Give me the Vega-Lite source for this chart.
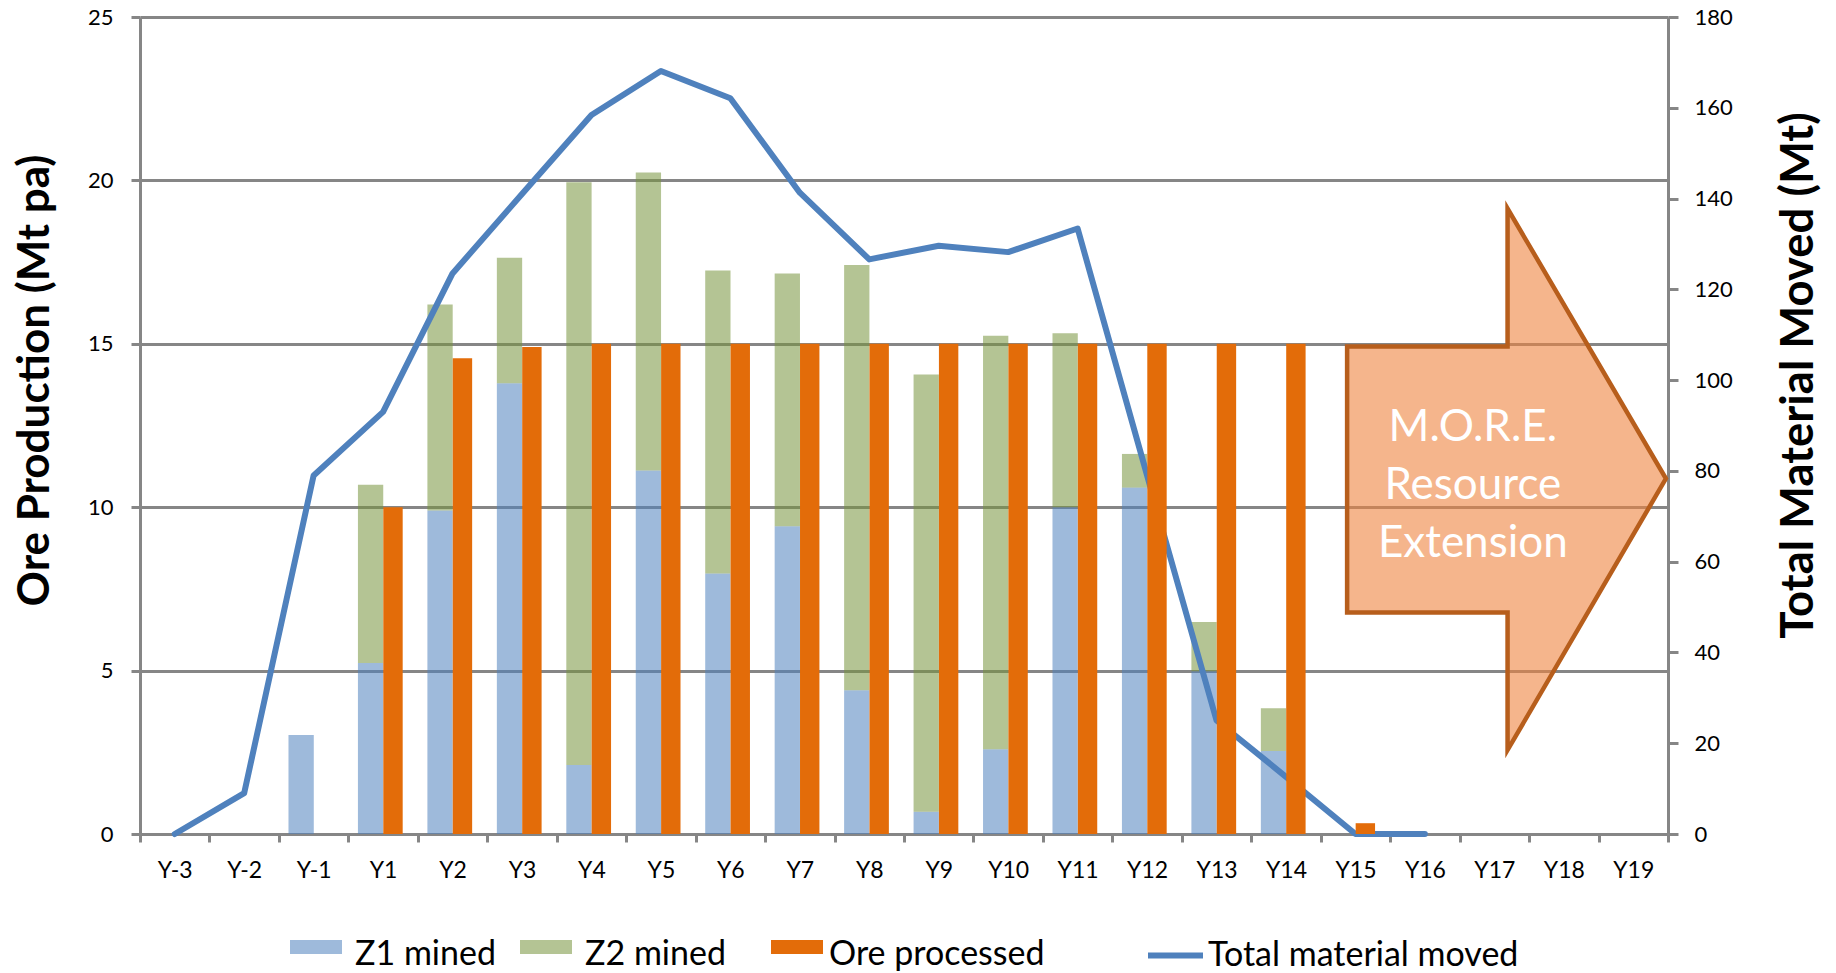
{
  "$schema": "https://vega.github.io/schema/vega-lite/v6.json",
  "width": 1528,
  "height": 817,
  "autosize": {"type": "none"},
  "padding": {"left": 140, "top": 17, "right": 168, "bottom": 139},
  "background": "white",
  "config": {
    "view": {"stroke": null},
    "font": "Lato",
    "axis": {"labelFont": "Lato", "titleFont": "Lato", "labelColor": "#000000", "titleColor": "#000000", "labelOverlap": false, "titleLimit": 2000}
  },
  "datasets": {
    "mined": [
      {"year": "Y-1", "zone": "Z1 mined", "mt": 3.03},
      {"year": "Y1", "zone": "Z1 mined", "mt": 5.23},
      {"year": "Y1", "zone": "Z2 mined", "mt": 5.46},
      {"year": "Y2", "zone": "Z1 mined", "mt": 9.9},
      {"year": "Y2", "zone": "Z2 mined", "mt": 6.3},
      {"year": "Y3", "zone": "Z1 mined", "mt": 13.79},
      {"year": "Y3", "zone": "Z2 mined", "mt": 3.84},
      {"year": "Y4", "zone": "Z1 mined", "mt": 2.11},
      {"year": "Y4", "zone": "Z2 mined", "mt": 17.83},
      {"year": "Y5", "zone": "Z1 mined", "mt": 11.12},
      {"year": "Y5", "zone": "Z2 mined", "mt": 9.12},
      {"year": "Y6", "zone": "Z1 mined", "mt": 7.97},
      {"year": "Y6", "zone": "Z2 mined", "mt": 9.27},
      {"year": "Y7", "zone": "Z1 mined", "mt": 9.42},
      {"year": "Y7", "zone": "Z2 mined", "mt": 7.73},
      {"year": "Y8", "zone": "Z1 mined", "mt": 4.4},
      {"year": "Y8", "zone": "Z2 mined", "mt": 13.01},
      {"year": "Y9", "zone": "Z1 mined", "mt": 0.68},
      {"year": "Y9", "zone": "Z2 mined", "mt": 13.38},
      {"year": "Y10", "zone": "Z1 mined", "mt": 2.59},
      {"year": "Y10", "zone": "Z2 mined", "mt": 12.66},
      {"year": "Y11", "zone": "Z1 mined", "mt": 10.0},
      {"year": "Y11", "zone": "Z2 mined", "mt": 5.32},
      {"year": "Y12", "zone": "Z1 mined", "mt": 10.6},
      {"year": "Y12", "zone": "Z2 mined", "mt": 1.03},
      {"year": "Y13", "zone": "Z1 mined", "mt": 4.98},
      {"year": "Y13", "zone": "Z2 mined", "mt": 1.51},
      {"year": "Y14", "zone": "Z1 mined", "mt": 2.54},
      {"year": "Y14", "zone": "Z2 mined", "mt": 1.31}
    ],
    "processed": [
      {"year": "Y1", "mt": 10.0},
      {"year": "Y2", "mt": 14.56},
      {"year": "Y3", "mt": 14.9},
      {"year": "Y4", "mt": 15},
      {"year": "Y5", "mt": 15},
      {"year": "Y6", "mt": 15},
      {"year": "Y7", "mt": 15},
      {"year": "Y8", "mt": 15},
      {"year": "Y9", "mt": 15},
      {"year": "Y10", "mt": 15},
      {"year": "Y11", "mt": 15},
      {"year": "Y12", "mt": 15},
      {"year": "Y13", "mt": 15},
      {"year": "Y14", "mt": 15},
      {"year": "Y15", "mt": 0.33}
    ],
    "moved": [
      {"year": "Y-3", "mt": 0},
      {"year": "Y-2", "mt": 9},
      {"year": "Y-1", "mt": 79},
      {"year": "Y1", "mt": 93},
      {"year": "Y2", "mt": 123.5},
      {"year": "Y3", "mt": 141},
      {"year": "Y4", "mt": 158.4},
      {"year": "Y5", "mt": 168.1},
      {"year": "Y6", "mt": 162.1},
      {"year": "Y7", "mt": 141.3},
      {"year": "Y8", "mt": 126.6},
      {"year": "Y9", "mt": 129.6},
      {"year": "Y10", "mt": 128.2},
      {"year": "Y11", "mt": 133.4},
      {"year": "Y12", "mt": 79},
      {"year": "Y13", "mt": 25},
      {"year": "Y14", "mt": 12.6},
      {"year": "Y15", "mt": 0},
      {"year": "Y16", "mt": 0}
    ],
    "arrow": [
      {"pos": 17.38, "lo": 48.8, "hi": 107.4},
      {"pos": 19.69, "lo": 48.8, "hi": 107.4},
      {"pos": 19.69, "lo": 18.5, "hi": 137.8},
      {"pos": 21.97, "lo": 78.3, "hi": 78.3}
    ],
    "arrowLabel": [
      {"pos": 19.19, "mt": 89.4, "text": "M.O.R.E.\nResource\nExtension"}
    ]
  },
  "layer": [
    {
      "data": {"name": "mined"},
      "mark": {"type": "bar", "width": 25.3, "xOffset": -12.5, "fillOpacity": 0.55},
      "encoding": {
        "x": {
          "field": "year", "type": "ordinal",
          "scale": {"type": "band", "domain": ["Y-3","Y-2","Y-1","Y1","Y2","Y3","Y4","Y5","Y6","Y7","Y8","Y9","Y10","Y11","Y12","Y13","Y14","Y15","Y16","Y17","Y18","Y19"], "paddingInner": 0, "paddingOuter": 0},
          "axis": {"title": null, "tickBand": "extent", "labelAngle": 0, "labelFontSize": 23, "labelPadding": 17, "tickSize": 8, "tickWidth": 3, "tickColor": "#868686", "domainColor": "#868686", "domainWidth": 3, "grid": false}
        },
        "y": {
          "field": "mt", "type": "quantitative", "stack": "zero",
          "scale": {"domain": [0, 25], "nice": false},
          "axis": {
            "values": [0, 5, 10, 15, 20, 25], "grid": true, "gridColor": "#868686", "gridWidth": 3,
            "domainColor": "#868686", "domainWidth": 3, "tickColor": "#868686", "tickWidth": 3, "tickSize": 9,
            "labelFontSize": 22, "labelPadding": 18, "labelFlush": false,
            "title": "Ore Production (Mt pa)", "titleFontSize": 44, "titleFontWeight": "bold", "titleLimit": 2000,
            "titleAngle": -90, "titleX": -105, "titleY": 363, "titleAlign": "center", "titleBaseline": "middle"
          }
        },
        "order": {"field": "zone", "type": "ordinal", "sort": "ascending"},
        "fill": {
          "field": "zone", "type": "nominal",
          "scale": {"domain": ["Z1 mined", "Z2 mined"], "range": ["#4F81BD", "#77933C"]},
          "legend": {
            "title": null, "orient": "none", "legendX": 150, "legendY": 912, "direction": "horizontal",
            "symbolType": "M-1,-0.58H1V-0.04H-1Z", "symbolSize": 2704, "symbolStrokeWidth": 0, "symbolOpacity": 0.55,
            "labelFontSize": 34, "labelFont": "Lato", "labelColor": "#000000", "labelOffset": 13, "labelLimit": 400,
            "columnPadding": 24, "padding": 0
          }
        }
      }
    },
    {
      "data": {"name": "moved"},
      "mark": {"type": "line", "strokeWidth": 6, "strokeJoin": "round", "strokeCap": "round"},
      "encoding": {
        "x": {
          "field": "year", "type": "ordinal",
          "sort": ["Y-3","Y-2","Y-1","Y1","Y2","Y3","Y4","Y5","Y6","Y7","Y8","Y9","Y10","Y11","Y12","Y13","Y14","Y15","Y16","Y17","Y18","Y19"],
          "scale": {"type": "point", "domain": ["Y-3","Y-2","Y-1","Y1","Y2","Y3","Y4","Y5","Y6","Y7","Y8","Y9","Y10","Y11","Y12","Y13","Y14","Y15","Y16","Y17","Y18","Y19"], "padding": 0.5},
          "axis": null
        },
        "y": {
          "field": "mt", "type": "quantitative",
          "scale": {"domain": [0, 180], "nice": false},
          "axis": {
            "orient": "right", "values": [0, 20, 40, 60, 80, 100, 120, 140, 160, 180], "grid": false,
            "domainColor": "#868686", "domainWidth": 3, "tickColor": "#868686", "tickWidth": 3, "tickSize": 10,
            "labelFontSize": 22, "labelPadding": 16, "labelFlush": false,
            "title": "Total Material Moved (Mt)", "titleFontSize": 45.5, "titleFontWeight": "bold", "titleLimit": 2000,
            "titleAngle": -90, "titleX": 130, "titleY": 358, "titleAlign": "center", "titleBaseline": "middle"
          }
        },
        "stroke": {
          "datum": "Total material moved", "type": "nominal",
          "scale": {"domain": ["Total material moved"], "range": ["#4F81BD"]},
          "legend": {
            "title": null, "orient": "none", "legendX": 1005, "legendY": 908,
            "symbolType": "stroke", "symbolSize": 3025, "symbolStrokeWidth": 6,
            "labelFontSize": 34, "labelFont": "Lato", "labelColor": "#000000", "labelOffset": 2, "labelLimit": 500, "padding": 0
          }
        }
      }
    },
    {
      "data": {"name": "processed"},
      "mark": {"type": "bar", "width": 19.4, "xOffset": 9.9},
      "encoding": {
        "x": {
          "field": "year", "type": "ordinal",
          "scale": {"type": "band", "domain": ["Y-3","Y-2","Y-1","Y1","Y2","Y3","Y4","Y5","Y6","Y7","Y8","Y9","Y10","Y11","Y12","Y13","Y14","Y15","Y16","Y17","Y18","Y19"], "paddingInner": 0, "paddingOuter": 0},
          "axis": null
        },
        "y": {"field": "mt", "type": "quantitative", "scale": {"domain": [0, 25], "nice": false}, "axis": null},
        "color": {
          "datum": "Ore processed", "type": "nominal",
          "scale": {"domain": ["Ore processed"], "range": ["#E36C09"]},
          "legend": {
            "title": null, "orient": "none", "legendX": 631, "legendY": 912,
            "symbolType": "M-1,-0.58H1V-0.04H-1Z", "symbolSize": 2704, "symbolStrokeWidth": 0,
            "labelFontSize": 34, "labelFont": "Lato", "labelColor": "#000000", "labelOffset": 6, "labelLimit": 400, "padding": 0
          }
        }
      }
    },
    {
      "layer": [
        {
          "data": {"name": "arrow"},
          "mark": {"type": "area", "interpolate": "linear", "fill": "#EE833F", "fillOpacity": 0.6, "stroke": "#B75E1C", "strokeWidth": 4.5, "strokeJoin": "miter"},
          "encoding": {
            "x": {"field": "pos", "type": "quantitative", "scale": {"domain": [0, 22], "nice": false, "zero": false}, "axis": null},
            "y": {"field": "lo", "type": "quantitative", "stack": null, "scale": {"domain": [0, 180], "nice": false}, "axis": null},
            "y2": {"field": "hi"},
            "order": {"value": null}
          }
        },
        {
          "data": {"name": "arrowLabel"},
          "mark": {"type": "text", "lineBreak": "\n", "font": "Lato", "fontSize": 44, "lineHeight": 58, "color": "#FFFFFF", "align": "center", "baseline": "middle"},
          "encoding": {
            "x": {"field": "pos", "type": "quantitative"},
            "y": {"field": "mt", "type": "quantitative"},
            "text": {"field": "text"}
          }
        }
      ]
    }
  ],
  "resolve": {"scale": {"x": "independent", "y": "independent"}}
}
